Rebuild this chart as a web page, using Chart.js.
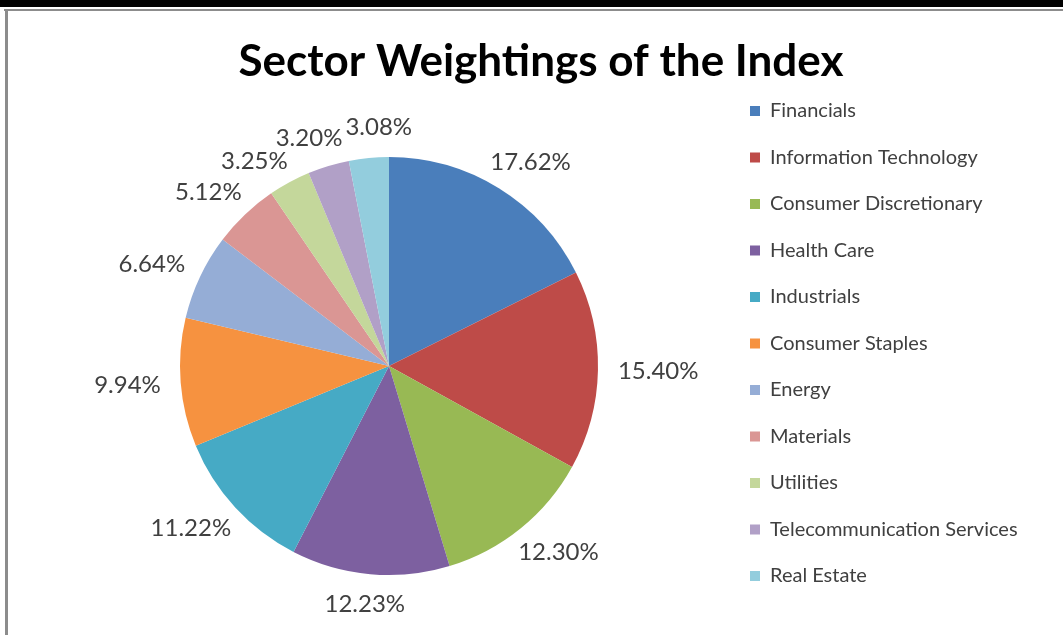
<!DOCTYPE html>
<html>
<head>
<meta charset="utf-8">
<script src="https://cdn.jsdelivr.net/npm/chart.js@4"></script>
<style>
  html, body { margin: 0; padding: 0; background: #fff; }
  #wrap { width: 1063px; height: 635px; position: relative; }
</style>
</head>
<body>
<div id="wrap"><canvas id="sector-chart" width="1063" height="635"></canvas></div>
<script>
const categories = [
    'Financials', 'Information Technology', 'Consumer Discretionary', 'Health Care',
    'Industrials', 'Consumer Staples', 'Energy', 'Materials', 'Utilities',
    'Telecommunication Services', 'Real Estate'
];
const weights = [17.62, 15.40, 12.30, 12.23, 11.22, 9.94, 6.64, 5.12, 3.25, 3.20, 3.08];
const sliceColors = [
    '#4a7ebb', '#be4b48', '#98b954', '#7d60a0', '#46aac5', '#f69240',
    '#95add6', '#da9694', '#c4d79b', '#b1a0c7', '#93cddd'
];

// white page with the frame lines of the original screenshot
const framePlugin = {
    id: 'frame',
    beforeDraw(chart) {
        const c = chart.ctx;
        c.save();
        c.fillStyle = '#fff';
        c.fillRect(0, 0, chart.width, chart.height);
        c.fillStyle = '#000';
        c.fillRect(0, 0, chart.width, 7);
        c.fillStyle = '#8c8c8c';
        c.fillRect(4, 9, chart.width - 4, 2);
        c.fillRect(5, 9, 3, chart.height - 9);
        c.restore();
    }
};

// percentage labels outside each slice, nudged apart when they collide
const outsideLabels = {
    id: 'outsideLabels',
    afterDatasetsDraw(chart) {
        const c = chart.ctx;
        const arcs = chart.getDatasetMeta(0).data;
        c.save();
        c.font = '24px Lato';
        c.fillStyle = '#404040';
        c.textAlign = 'center';
        c.textBaseline = 'middle';
        const h = 20;
        const texts = weights.map(v => v.toFixed(2) + '%');
        const widths = texts.map(t => c.measureText(t).width);
        const angles = arcs.map(a => (a.startAngle + a.endAngle) / 2);
        const place = (i) => {
            const a = arcs[i];
            const dx = Math.cos(angles[i]), dy = Math.sin(angles[i]);
            const r = a.outerRadius + 20;
            return {
                x: a.x + dx * r + dx * widths[i] / 2,
                y: a.y + dy * r + dy * h / 2
            };
        };
        const overlap = (i, j) => {
            const p = place(i), q = place(j);
            return Math.abs(p.x - q.x) < (widths[i] + widths[j]) / 2 + 2 &&
                Math.abs(p.y - q.y) < h + 2;
        };
        const step = 0.3 * Math.PI / 180;
        for (let k = 0; k < 300; k++) {
            let moved = false;
            for (let i = 0; i < arcs.length - 1; i++) {
                if (overlap(i, i + 1)) {
                    angles[i] -= step;
                    angles[i + 1] += step;
                    moved = true;
                }
            }
            if (!moved) break;
        }
        texts.forEach((t, i) => {
            const p = place(i);
            c.fillText(t, p.x, p.y);
        });
        c.restore();
    }
};

const ctx = document.getElementById('sector-chart').getContext('2d');
const chart = new Chart(ctx, {
    type: 'pie',
    data: {
        labels: categories,
        datasets: [{
            data: weights,
            backgroundColor: sliceColors,
            borderWidth: 0,
            radius: 209
        }]
    },
    options: {
        responsive: false,
        animation: false,
        layout: {
            padding: { left: 54.5, right: 35.5, top: 0, bottom: 0 }
        },
        plugins: {
            title: {
                display: true,
                text: 'Sector Weightings of the Index',
                color: '#000',
                font: { family: 'Lato', size: 44, weight: 'bold', lineHeight: '22px' },
                padding: { top: 51, bottom: 24 }
            },
            legend: {
                position: 'right',
                align: 'start',
                maxWidth: 304,
                title: {
                    display: true,
                    text: '',
                    font: { size: 10, lineHeight: '10px' },
                    padding: { top: 64.5, bottom: 0 }
                },
                labels: {
                    boxWidth: 10,
                    boxHeight: 10,
                    padding: 26.5,
                    color: '#404040',
                    font: { family: 'Lato', size: 20 }
                }
            },
            tooltip: { enabled: false }
        }
    },
    plugins: [framePlugin, outsideLabels]
});
</script>
</body>
</html>
